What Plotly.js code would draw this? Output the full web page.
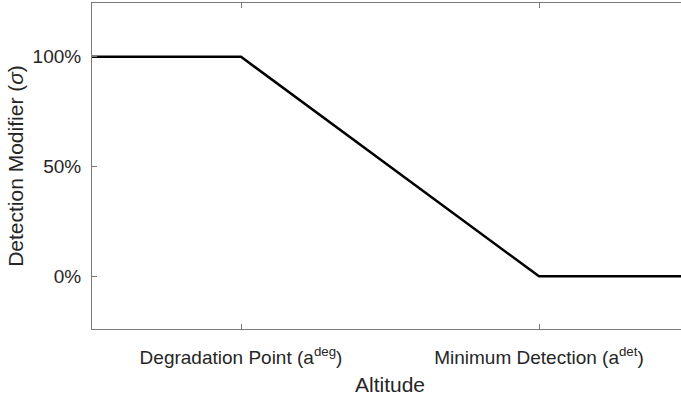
<!DOCTYPE html>
<html>
<head>
<meta charset="utf-8">
<script src="https://cdn.plot.ly/plotly-3.0.1.min.js"></script>
<style>
html,body{margin:0;padding:0;overflow:hidden;background:#fff;width:681px;height:403px;}
#chart{width:700px;height:403px;}
</style>
</head>
<body>
<div id="chart"></div>
<script>
// Data
const altitude = [0.5, 1, 2, 2.5];
const modifier = [1, 1, 0, 0];
const xTickVals = [1, 2];
const xTickText = ['Degradation Point (a<sup>deg</sup>)', 'Minimum Detection (a<sup>det</sup>)'];
const yTickVals = [0, 0.5, 1];
const yTickText = ['0%', '50%', '100%'];

const textColor = '#262626';
const axisColor = '#7a7a7a';
const font = 'Liberation Sans, Arial, Helvetica, sans-serif';

Plotly.newPlot('chart', [{
  x: altitude,
  y: modifier,
  type: 'scatter',
  mode: 'lines',
  line: {color: '#000000', width: 2.5},
  hoverinfo: 'skip'
}], {
  width: 700,
  height: 403,
  margin: {l: 92, r: 12, t: 3, b: 74},
  paper_bgcolor: '#ffffff',
  plot_bgcolor: '#ffffff',
  showlegend: false,
  font: {family: font, color: textColor, size: 19},
  xaxis: {
    range: [0.5, 2.5],
    tickvals: xTickVals,
    ticktext: xTickText,
    ticks: 'inside',
    ticklen: 5,
    tickcolor: axisColor,
    tickwidth: 1,
    showline: true,
    linecolor: axisColor,
    linewidth: 1,
    mirror: 'ticks',
    showgrid: false,
    zeroline: false,
    ticklabelstandoff: 11,
    tickfont: {family: font, size: 19, color: textColor},
    title: {text: 'Altitude', font: {family: font, size: 21, color: textColor}, standoff: 10}
  },
  yaxis: {
    range: [-0.24, 1.245],
    tickvals: yTickVals,
    ticktext: yTickText,
    ticks: 'inside',
    ticklen: 5,
    tickcolor: axisColor,
    tickwidth: 1,
    showline: true,
    linecolor: axisColor,
    linewidth: 1,
    mirror: 'ticks',
    showgrid: false,
    zeroline: false,
    ticklabelstandoff: 6,
    tickfont: {family: font, size: 19, color: textColor},
    title: {text: 'Detection Modifier (<i>σ</i>)', font: {family: font, size: 21, color: textColor}, standoff: 3}
  }
}, {staticPlot: true, displayModeBar: false});
</script>
</body>
</html>
